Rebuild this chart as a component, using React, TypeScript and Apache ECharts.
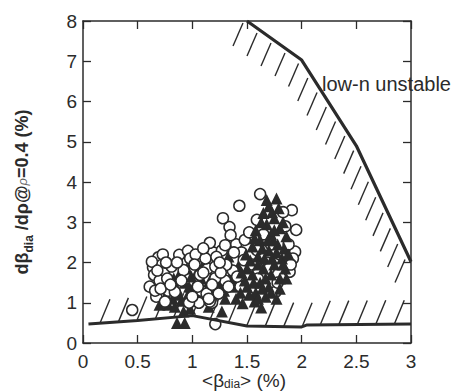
import React, { useEffect, useRef } from 'react';
import * as echarts from 'echarts';

const xTickValues = [0, 0.5, 1, 1.5, 2, 2.5, 3];
const yTickValues = [0, 1, 2, 3, 4, 5, 6, 7, 8];

// stability boundaries
const lowerX = [0.05, 0.5, 1.0, 1.5, 2.0, 2.05, 3.0];
const lowerY = [0.47, 0.56, 0.68, 0.42, 0.40, 0.45, 0.47];
const upperX = [1.5, 2.0, 2.5, 3.0];
const upperY = [8.0, 7.03, 4.9, 2.02];

// open circles
const circles: number[][] = [
  [0.45, 0.82],
  [0.61, 1.40], [0.64, 1.88], [0.65, 1.69], [0.67, 1.15], [0.69, 2.13], [0.72, 1.94], [0.74, 1.73],
  [0.75, 1.03], [0.63, 2.02], [0.70, 1.55], [0.78, 1.30], [0.81, 1.90], [0.84, 1.27], [0.88, 2.19],
  [0.92, 1.81], [0.96, 2.29], [0.73, 2.20], [0.66, 1.30], [0.77, 1.60],
  [0.68, 1.80], [0.76, 2.00], [0.86, 2.00], [0.90, 1.55], [0.98, 2.10], [1.03, 2.20], [1.08, 1.30],
  [1.14, 1.85], [1.19, 2.25], [1.27, 2.30], [1.34, 2.88], [1.40, 2.45], [1.45, 2.25], [1.30, 1.55],
  [1.37, 1.80], [1.44, 1.40], [1.18, 1.00], [1.06, 1.00], [0.97, 1.00], [0.71, 1.35], [0.80, 1.45],
  [1.07, 1.69], [1.12, 2.10], [1.13, 1.23], [1.16, 2.49], [1.16, 1.03], [1.21, 1.90], [1.21, 1.61],
  [1.22, 2.14], [1.24, 1.23], [1.28, 3.10], [1.30, 2.43], [1.31, 1.94], [1.35, 2.68], [1.41, 1.65],
  [1.43, 3.41], [1.47, 2.06], [1.48, 2.56], [1.02, 1.95], [1.05, 1.40], [1.10, 1.75], [1.18, 1.45],
  [1.26, 1.75], [1.33, 1.40], [1.38, 2.25], [1.10, 2.35], [1.00, 1.15], [1.21, 0.47], [1.25, 2.00],
  [1.15, 1.10],
  [1.59, 3.06], [1.62, 3.70], [1.59, 2.31], [1.76, 1.27], [1.89, 1.77], [1.91, 3.30], [1.95, 2.81],
  [1.94, 2.27], [1.55, 1.95], [1.60, 1.60], [1.68, 2.00], [1.72, 2.45], [1.80, 2.20], [1.85, 2.90],
  [1.88, 2.45], [1.92, 2.10], [1.78, 1.50], [1.70, 1.85], [1.65, 2.70], [1.83, 3.25], [1.90, 1.95],
  [1.52, 2.75], [1.58, 1.35],
];

// filled triangles, drawn under the circles
const trianglesUnder: number[][] = [
  [0.86, 0.50], [0.93, 0.50],
  [0.78, 0.95], [0.82, 1.10], [0.86, 1.35], [0.90, 1.05], [0.93, 1.50], [0.96, 1.20], [0.98, 0.85],
  [1.01, 2.06], [0.88, 1.70], [0.95, 1.85], [1.02, 1.45], [1.05, 1.10], [0.70, 0.95], [0.80, 1.50],
  [1.08, 1.60], [0.99, 1.65], [1.12, 1.35], [0.92, 0.78], [1.27, 0.78], [1.38, 1.40], [1.30, 1.10],
  [1.42, 1.90], [1.35, 1.65], [1.25, 1.50],
  [0.84, 0.90], [0.88, 1.20], [0.97, 1.40], [1.04, 1.75], [1.10, 1.95], [1.17, 1.60], [1.20, 1.25],
  [1.29, 1.30], [1.34, 1.95], [1.40, 1.55], [1.44, 2.30], [1.33, 2.15], [0.83, 1.60], [0.76, 1.20],
  [1.15, 0.90],
];

// filled triangles, drawn over the circles
const trianglesOver: number[][] = [
  [1.46, 0.99], [1.57, 1.03], [1.63, 0.88], [1.77, 3.59], [1.65, 3.23], [1.70, 3.40], [1.75, 3.10],
  [1.68, 2.95], [1.80, 2.85], [1.72, 2.70], [1.62, 2.55], [1.78, 2.45], [1.70, 2.30], [1.60, 2.15],
  [1.82, 2.10], [1.75, 1.95], [1.65, 1.85], [1.55, 1.70], [1.72, 1.70], [1.80, 1.60], [1.62, 1.50],
  [1.50, 1.40], [1.70, 1.40], [1.58, 1.25], [1.80, 1.35], [1.52, 1.20], [1.67, 1.15], [1.48, 1.55],
  [1.85, 1.85], [1.58, 2.80], [1.83, 3.00], [1.66, 2.10], [1.55, 2.40], [1.74, 2.55], [1.60, 1.95],
  [1.77, 2.25],
  [1.53, 2.05], [1.57, 2.60], [1.63, 3.00], [1.68, 3.55], [1.73, 3.25], [1.79, 3.35], [1.86, 2.65],
  [1.84, 2.35], [1.69, 2.55], [1.64, 2.35], [1.75, 2.80], [1.88, 2.20], [1.50, 1.85], [1.56, 1.50],
  [1.64, 1.35], [1.72, 1.25], [1.77, 1.10], [1.86, 1.60], [1.60, 1.10], [1.49, 2.20], [1.45, 1.75],
  [1.44, 1.25], [1.40, 1.10], [1.67, 1.60], [1.83, 1.95], [1.73, 2.10],
];

const INK = '#2b2b2b';
const FONT = 'Liberation Sans, Arial, sans-serif';

export default function App() {
  const ref = useRef<HTMLDivElement>(null);
  useEffect(() => {
    if (!ref.current) return;
    const chart = echarts.init(ref.current, null, { renderer: 'svg' });

    const axisCommon = {
      type: 'value' as const,
      axisLine: { show: true, onZero: false, lineStyle: { color: INK, width: 1.5 } },
      axisTick: { show: true, inside: true, length: 8, lineStyle: { color: INK, width: 1.3 } },
      splitLine: { show: false },
    };

    const hatchRender = (params: any, api: any) => {
      const children: any[] = [];
      const build = (xs: number[], ys: number[], spacing: number, startOff: number,
        dx1: number, dy1: number, dx2: number, dy2: number) => {
        const pts = xs.map((x, i) => api.coord([x, ys[i]]));
        let target = startOff;
        let acc = 0;
        for (let i = 0; i < pts.length - 1; i++) {
          const [x0, y0] = pts[i];
          const [x1, y1] = pts[i + 1];
          const len = Math.hypot(x1 - x0, y1 - y0);
          while (target <= acc + len) {
            const t = (target - acc) / len;
            const px = x0 + (x1 - x0) * t;
            const py = y0 + (y1 - y0) * t;
            children.push({
              type: 'line',
              shape: { x1: px + dx1, y1: py + dy1, x2: px + dx2, y2: py + dy2 },
              style: { stroke: INK, lineWidth: 1.4 },
            });
            target += spacing;
          }
          acc += len;
        }
      };
      build(lowerX, lowerY, 18.5, 11.5, 0, 0, 10, -24);
      build(upperX, upperY, 17.2, 0, -4, 2, -14, 25);
      return { type: 'group', children };
    };

    chart.setOption({
      animation: false,
      grid: { left: 83, top: 21, width: 328, height: 322, containLabel: false },
      xAxis: [
        {
          ...axisCommon, min: 0, max: 3, interval: 0.5, position: 'bottom',
          axisLabel: {
            show: true, fontSize: 19, lineHeight: 19, color: INK, fontFamily: FONT, margin: 9,
            showMinLabel: true, showMaxLabel: true,
            formatter: (v: number) => (xTickValues.includes(v) ? String(v) : ''),
          },
        },
        {
          ...axisCommon, min: 0, max: 3, interval: 0.5, position: 'top',
          axisLabel: { show: false },
        },
      ],
      yAxis: [
        {
          ...axisCommon, min: 0, max: 8, interval: 1, position: 'left',
          axisLabel: {
            show: true, fontSize: 19, color: INK, fontFamily: FONT, margin: 6,
            showMinLabel: true, showMaxLabel: true,
            formatter: (v: number) => (yTickValues.includes(v) ? String(v) : ''),
          },
        },
        {
          ...axisCommon, min: 0, max: 8, interval: 1, position: 'right',
          axisLabel: { show: false },
        },
      ],
      series: [
        {
          type: 'custom', name: 'hatch', xAxisIndex: 0, yAxisIndex: 0,
          data: [[0, 0]], renderItem: hatchRender, silent: true, clip: true,
        },
        {
          type: 'line', name: 'lower', data: lowerX.map((x, i) => [x, lowerY[i]]),
          symbol: 'none', lineStyle: { color: INK, width: 3 },
        },
        {
          type: 'line', name: 'upper', data: upperX.map((x, i) => [x, upperY[i]]),
          symbol: 'none', lineStyle: { color: INK, width: 3.2 },
        },
        {
          type: 'scatter', name: 'tri-under', data: trianglesUnder, symbol: 'triangle', symbolSize: 12,
          itemStyle: { color: INK, opacity: 1 },
        },
        {
          type: 'scatter', name: 'circles', data: circles, symbol: 'circle', symbolSize: 11,
          itemStyle: { color: '#ffffff', borderColor: INK, borderWidth: 1.5, opacity: 1 },
        },
        {
          type: 'scatter', name: 'tri-over', data: trianglesOver, symbol: 'triangle', symbolSize: 12,
          itemStyle: { color: INK, opacity: 1 },
        },
      ],
      graphic: [
        {
          type: 'text', left: 322, top: 74, z: 100,
          style: { text: 'low-n unstable', fontSize: 20, fontFamily: FONT, fill: INK },
        },
        {
          type: 'text', x: 244, y: 380, z: 100,
          style: {
            text: '{m|<β}{s|dia}{m|> (%)}',
            x: 0, y: 0, align: 'center', verticalAlign: 'middle',
            fill: INK, fontFamily: FONT, fontSize: 19,
            rich: {
              m: { fontSize: 19, lineHeight: 20, fontFamily: FONT, fill: INK },
              s: { fontSize: 12, lineHeight: 12, padding: [10, 0, 0, 0], verticalAlign: 'bottom', fontFamily: FONT, fill: INK },
            },
          },
        },
        {
          type: 'text', x: 22, y: 192, rotation: Math.PI / 2, z: 100,
          style: {
            text: '{m|dβ}{s|dia}{m| /dρ@}{t|ρ}{m|=0.4 (%)}',
            x: 0, y: 0, align: 'center', verticalAlign: 'middle',
            fill: INK, fontFamily: FONT, fontSize: 18, fontWeight: 'bold',
            rich: {
              m: { fontSize: 18, lineHeight: 26, fontWeight: 'bold', fontFamily: FONT, fill: INK },
              s: { fontSize: 12, verticalAlign: 'bottom', fontWeight: 'bold', fontFamily: FONT, fill: INK },
              t: { fontSize: 13, fontStyle: 'italic', fontFamily: FONT, fill: '#666' },
            },
          },
        },
      ],
    });
    return () => chart.dispose();
  }, []);
  return (
    <div
      ref={ref}
      style={{ position: 'fixed', left: 0, top: 0, width: 454, height: 392, background: '#fff' }}
    />
  );
}
